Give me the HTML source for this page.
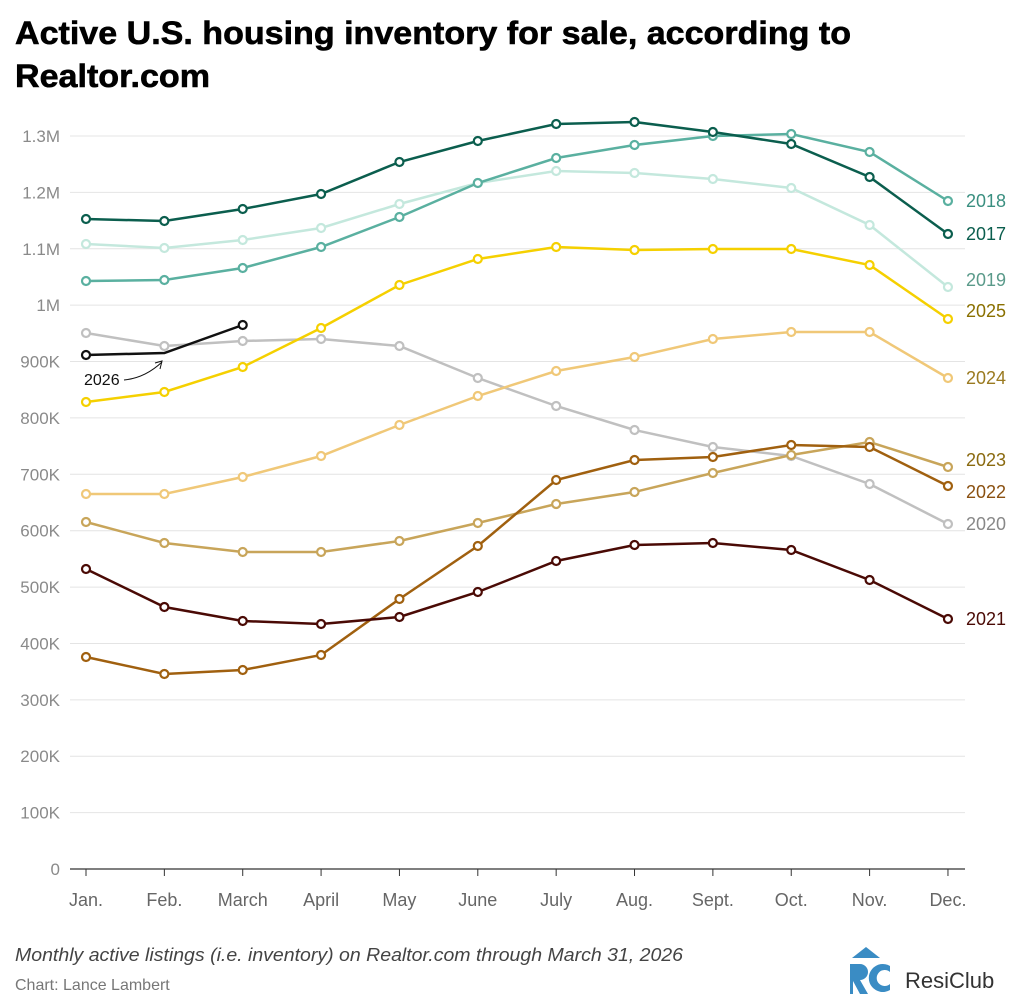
<!DOCTYPE html>
<html><head><meta charset="utf-8"><style>
html,body{margin:0;padding:0;background:#fff;width:1024px;height:994px;overflow:hidden}
svg{display:block;font-family:"Liberation Sans",sans-serif}
</style></head><body>
<svg id="s" width="1024" height="994" viewBox="0 0 1024 994" xmlns="http://www.w3.org/2000/svg">
<text x="15" y="44" font-size="32" font-weight="bold" fill="#000" stroke="#000" stroke-width="0.6" textLength="836" lengthAdjust="spacingAndGlyphs">Active U.S. housing inventory for sale, according to</text>
<text x="15" y="87" font-size="32" font-weight="bold" fill="#000" stroke="#000" stroke-width="0.6" textLength="195" lengthAdjust="spacingAndGlyphs">Realtor.com</text>
<g id="grid"></g>
<g id="lines"></g>
<text x="84" y="385" font-size="16" fill="#111">2026</text>
<path d="M124 380 Q145 378 162 362" fill="none" stroke="#111" stroke-width="1"/>
<path d="M155 363 L162 361 L160 369" fill="none" stroke="#111" stroke-width="1"/>
<text x="15" y="961" font-size="18" font-style="italic" fill="#444" textLength="668" lengthAdjust="spacingAndGlyphs">Monthly active listings (i.e. inventory) on Realtor.com through March 31, 2026</text>
<text x="15" y="990" font-size="16" fill="#777">Chart: Lance Lambert</text>
<g>
<polygon points="852,958 866,947 880,958" fill="#3a8cc4"/>
<path d="M850 964 h10 a8 8 0 0 1 0 16 l8 14 h-8 l-7 -13 v13 h-3 z" fill="#3a8cc4"/>
<path d="M890 966 a14 14 0 1 0 0 24 v-6 a8 8 0 1 1 0 -12 z" fill="#3a8cc4"/>
<text x="905" y="988" font-size="22" fill="#333">ResiClub</text>
</g>
</svg>
<script>
const X=i=>86+i*78.36, Y=v=>869-v*56.385;
const g=document.getElementById('grid'),L=document.getElementById('lines');
let h='';
const labs=['0','100K','200K','300K','400K','500K','600K','700K','800K','900K','1M','1.1M','1.2M','1.3M'];
for(let k=0;k<=13;k++){const y=Y(k);
 if(k>0)h+=`<line x1="70" x2="965" y1="${y}" y2="${y}" stroke="#e4e4e4" stroke-width="1"/>`;
 h+=`<text x="60" y="${y+6}" text-anchor="end" font-size="17" fill="#8a8a8a">${labs[k]}</text>`;}
h+=`<line x1="70" x2="965" y1="869" y2="869" stroke="#333" stroke-width="1.2"/>`;
const mon=['Jan.','Feb.','March','April','May','June','July','Aug.','Sept.','Oct.','Nov.','Dec.'];
mon.forEach((m,i)=>{h+=`<line x1="${X(i)}" x2="${X(i)}" y1="869" y2="876" stroke="#333"/><text x="${X(i)}" y="906" text-anchor="middle" font-size="18" fill="#666">${m}</text>`;});
g.innerHTML=h;
const S=[
['#c4e8dd','#5a9a8a','2019',[244,248,240,228,204,183,171,173,179,188,225,287],280],
['#5ab0a0','#3a8f80','2018',[281,280,268,247,217,183,158,145,136,134,152,201],201],
['#0b5e4e','#0b5e4e','2017',[219,221,209,194,162,141,124,122,132,144,177,234],234],
['#c0c0c0','#888','2020',[333,346,341,339,346,378,406,430,447,456,484,524],524],
['#f0c878','#9a7a20','2024',[494,494,477,456,425,396,371,357,339,332,332,378],378],
['#c8a55a','#8a6a10','2023',[522,543,552,552,541,523,504,492,473,455,442,467],460],
['#a0600f','#8a5010','2022',[657,674,670,655,599,546,480,460,457,445,447,486],492],
['#4a0a05','#4a0a05','2021',[569,607,621,624,617,592,561,545,543,550,580,619],619],
['#f5d000','#8a7000','2025',[402,392,367,328,285,259,247,250,249,249,265,319],311],
];
let o='';
S.forEach(([c,lc,n,d,ly])=>{
 o+=`<polyline points="${d.map((y,i)=>X(i)+','+y).join(' ')}" fill="none" stroke="${c}" stroke-width="2.5"/>`;
 d.forEach((y,i)=>o+=`<circle cx="${X(i)}" cy="${y}" r="4" fill="#fff" stroke="${c}" stroke-width="2.2"/>`);
 o+=`<text x="966" y="${ly+6}" font-size="18" fill="${lc}">${n}</text>`;
});
o+=`<polyline points="${X(0)},355 ${X(1)},353 ${X(2)},325" fill="none" stroke="#111" stroke-width="2.5"/>`;
o+=`<circle cx="${X(0)}" cy="355" r="4" fill="#fff" stroke="#111" stroke-width="2.2"/><circle cx="${X(2)}" cy="325" r="4" fill="#fff" stroke="#111" stroke-width="2.2"/>`;
L.innerHTML=o;
</script>
</body></html>
